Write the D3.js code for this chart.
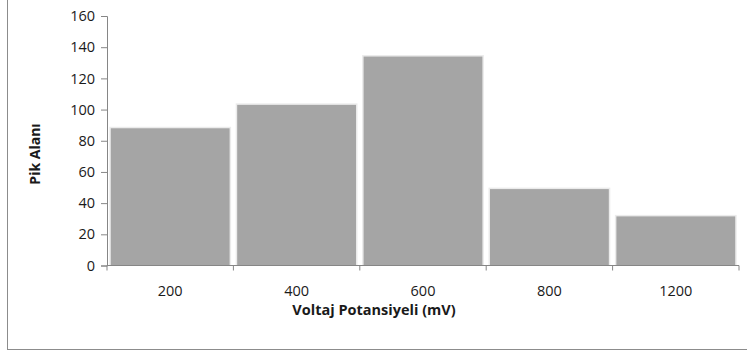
<!DOCTYPE html>
<html>
<head>
<meta charset="utf-8">
<script src="https://cdn.jsdelivr.net/npm/d3@7/dist/d3.min.js"></script>
<style>
  html, body { margin: 0; padding: 0; background: #fff; }
  svg { display: block; }
  text { font-family: "Open Sans", "Liberation Sans", sans-serif; fill: #1a1a1a; }
</style>
</head>
<body>
<script>
// Peak area per applied voltage potential
const categories = ["200", "400", "600", "800", "1200"];
const values = [88, 103, 134, 49, 31.5];
const yTicks = [0, 20, 40, 60, 80, 100, 120, 140, 160];

const W = 747, H = 352;
const plot = { left: 107, right: 739, top: 16, bottom: 265.5 };

const svg = d3.select("body").append("svg")
  .attr("width", W).attr("height", H);

// chart frame
svg.append("rect")
  .attr("x", 7.5).attr("y", -2)
  .attr("width", W + 10).attr("height", 351.5)
  .attr("fill", "none").attr("stroke", "#8c8c8c").attr("stroke-width", 1);

const x = d3.scaleBand()
  .domain(categories)
  .range([plot.left, plot.right])
  .paddingInner(0.06).paddingOuter(0.03);

const xAxisScale = d3.scaleBand().domain(categories).range([plot.left, plot.right]);

const y = d3.scaleLinear().domain([0, 160]).range([plot.bottom, plot.top]);

// soft halo behind each bar
svg.append("g").selectAll("rect")
  .data(values)
  .join("rect")
  .attr("x", (d, i) => x(categories[i]) - 1.5)
  .attr("y", d => y(d) - 1.5)
  .attr("width", x.bandwidth() + 3)
  .attr("height", d => plot.bottom - y(d) + 1.5)
  .attr("fill", "#ebebeb");

svg.append("g").selectAll("rect")
  .data(values)
  .join("rect")
  .attr("x", (d, i) => x(categories[i]))
  .attr("y", d => y(d))
  .attr("width", x.bandwidth())
  .attr("height", d => plot.bottom - y(d))
  .attr("fill", "#a5a5a5");

// y axis
const yAxis = svg.append("g")
  .attr("transform", `translate(${plot.left},0)`)
  .call(d3.axisLeft(y).tickValues(yTicks).tickSize(6).tickPadding(6));
yAxis.attr("font-size", null).attr("font-family", null);
yAxis.select(".domain").attr("stroke", "#868686");
yAxis.selectAll(".tick line").attr("stroke", "#868686");
yAxis.selectAll(".tick text")
  .style("font-size", "14.5px").attr("fill", "#1a1a1a");

// x axis: ticks at category boundaries
const xg = svg.append("g").attr("transform", `translate(0,${plot.bottom})`);
xg.append("line")
  .attr("x1", plot.left).attr("x2", plot.right)
  .attr("stroke", "#868686");
const bounds = categories.map(c => xAxisScale(c)).concat([plot.right]);
xg.selectAll("line.tk").data(bounds).join("line")
  .attr("class", "tk")
  .attr("x1", d => d).attr("x2", d => d)
  .attr("y1", 0).attr("y2", 5)
  .attr("stroke", "#868686");
xg.selectAll("text").data(categories).join("text")
  .attr("x", d => xAxisScale(d) + xAxisScale.bandwidth() / 2)
  .attr("y", 30)
  .attr("text-anchor", "middle")
  .style("font-size", "14.5px")
  .text(d => d);

// axis titles
svg.append("text")
  .attr("x", 374).attr("y", 315)
  .attr("text-anchor", "middle")
  .style("font-size", "14.5px").attr("font-weight", "bold")
  .text("Voltaj Potansiyeli (mV)");

svg.append("text")
  .attr("transform", "translate(40,154) rotate(-90)")
  .attr("text-anchor", "middle")
  .style("font-size", "14px").attr("font-weight", "bold")
  .text("Pik Alanı");
</script>
</body>
</html>
